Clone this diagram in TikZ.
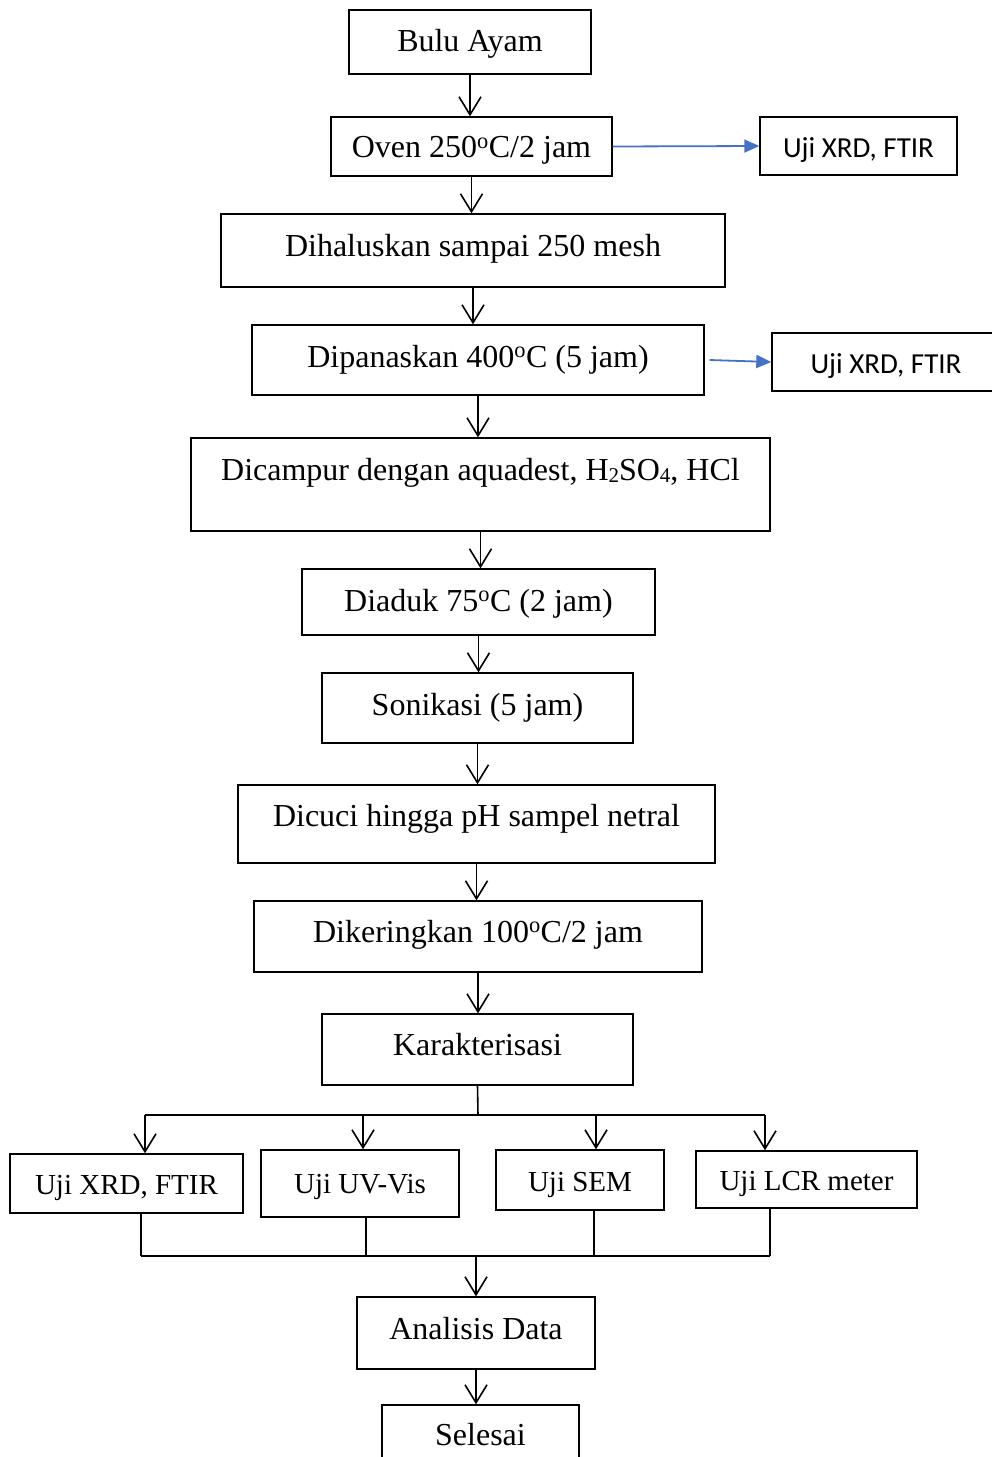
\documentclass[tikz,border=0pt]{standalone}
\usepackage{fontspec}
\setmainfont{Liberation Serif}
\newfontfamily\calfont{Carlito}
\usetikzlibrary{arrows.meta}
\definecolor{arrblue}{HTML}{4472C4}
\newcommand{\smallsub}[1]{\raisebox{-2pt}{\fontsize{21}{21}\selectfont #1}}
\tikzset{
  box/.style={draw, line width=1.4pt, inner sep=0pt, text height=22pt, align=center,
    font=\fontsize{32}{38}\selectfont},
  sbox/.style={box, font=\fontsize{29}{34}\selectfont},
  cbox/.style={box, font=\calfont\fontsize{29}{34}\selectfont},
  arr/.style={line width=1.6pt, -{Straight Barb[length=18pt,width=22pt,line width=1.6pt]}},
  barr/.style={line width=1.8pt, arrblue, -{Triangle[length=15pt,width=13pt]}},
  ln/.style={line width=1.6pt},
  hln/.style={line width=2.2pt}
}
\begin{document}
\begin{tikzpicture}[x=1pt,y=-1pt]
\clip (0,0) rectangle (992,1457);
\fill[white] (0,0) rectangle (992,1457);
% main column
\node[box, minimum width=242pt, minimum height=64pt, text depth=4pt] (n1) at (470,42) {Bulu Ayam};
\node[box, minimum width=281pt, minimum height=59pt, text depth=0pt] (n2) at (471.5,146.5) {Oven 250\textsuperscript{o}C/2 jam};
\node[cbox, minimum width=197pt, minimum height=58pt, text depth=0pt] (u1) at (858.5,146) {Uji XRD, FTIR};
\node[box, minimum width=504pt, minimum height=73pt, text depth=11pt] (n3) at (473,250.5) {Dihaluskan sampai 250 mesh};
\node[box, minimum width=452pt, minimum height=70pt, text depth=8pt] (n4) at (478,360) {Dipanaskan 400\textsuperscript{o}C (5 jam)};
\node[cbox, minimum width=228pt, minimum height=58pt, text depth=0pt] (u2) at (886,362) {Uji XRD, FTIR};
\node[box, minimum width=579pt, minimum height=93pt, text depth=31pt] (n5) at (480.5,484.5) {Dicampur dengan aquadest, H\smallsub{2}SO\smallsub{4}, HCl};
\node[box, minimum width=353pt, minimum height=66pt, text depth=4pt] (n6) at (478.5,602) {Diaduk 75\textsuperscript{o}C (2 jam)};
\node[box, minimum width=311pt, minimum height=70pt, text depth=8pt] (n7) at (477.5,708) {Sonikasi (5 jam)};
\node[box, minimum width=477pt, minimum height=78pt, text depth=18pt] (n8) at (476.5,824) {Dicuci hingga pH sampel netral};
\node[box, minimum width=448pt, minimum height=71pt, text depth=11pt] (n9) at (478,936.5) {Dikeringkan 100\textsuperscript{o}C/2 jam};
\node[box, minimum width=311pt, minimum height=71pt, text depth=11pt] (n10) at (477.5,1049.5) {Karakterisasi};
% bottom row
\node[sbox, minimum width=233pt, minimum height=59pt, text depth=0pt] (x1) at (126.5,1183.5) {Uji XRD, FTIR};
\node[sbox, minimum width=198pt, minimum height=67pt, text depth=3pt] (x2) at (360,1183.5) {Uji UV-Vis};
\node[sbox, minimum width=168pt, minimum height=60pt, text depth=0pt] (x3) at (580,1180) {Uji SEM};
\node[sbox, minimum width=221pt, minimum height=57pt, text depth=0pt] (x4) at (806.5,1179.5) {Uji LCR meter};
\node[box, minimum width=238pt, minimum height=72pt, text depth=10pt] (n11) at (476,1333) {Analisis Data};
\node[box, minimum width=197pt, minimum height=70pt, text depth=12pt] (n12) at (480.5,1440) {Selesai};
% vertical arrows
\foreach \a/\b in {n1/n2,n2/n3,n3/n4,n4/n5,n5/n6,n6/n7,n7/n8,n8/n9,n9/n10,n11/n12}
  \draw[arr] (\a.south) -- (\a.south |- \b.north);
% side arrows
\draw[barr] (n2.east) -- (u1.west);
\draw[barr] ([xshift=5pt]n4.east) -- (u2.west);
% split
\coordinate (s0) at (478,1115);
\coordinate (s1) at (145,1115);
\coordinate (s2) at (363,1115);
\coordinate (s3) at (596,1115);
\coordinate (s4) at (765,1115);
\draw[ln] (n10.south) -- (s0);
\draw[hln] (s1) -- (s4);
\draw[arr] (s1) -- (s1 |- x1.north);
\draw[arr] (s2) -- (s2 |- x2.north);
\draw[arr] (s3) -- (s3 |- x3.north);
\draw[arr] (s4) -- (s4 |- x4.north);
% merge
\coordinate (m1) at (141,1256);
\coordinate (m2) at (366,1256);
\coordinate (m3) at (594,1256);
\coordinate (m4) at (770,1256);
\coordinate (m0) at (476,1256);
\draw[ln] (m1 |- x1.south) -- (m1);
\draw[ln] (m2 |- x2.south) -- (m2);
\draw[ln] (m3 |- x3.south) -- (m3);
\draw[ln] (m4 |- x4.south) -- (m4);
\draw[hln] (m1) -- (m4);
\draw[arr] (m0) -- (m0 |- n11.north);
\end{tikzpicture}
\end{document}
